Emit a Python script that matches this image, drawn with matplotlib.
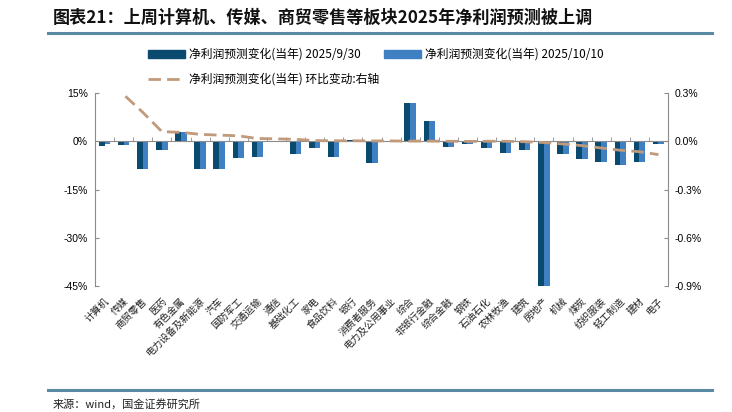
import numpy as np
import matplotlib
matplotlib.use("Agg")
import matplotlib.pyplot as plt
from matplotlib.lines import Line2D
from matplotlib.patches import Patch

plt.rcParams['font.family'] = ['Noto Sans CJK SC', 'DejaVu Sans']

# 行业
categories = ["计算机", "传媒", "商贸零售", "医药", "有色金属", "电力设备及新能源", "汽车",
              "国防军工", "交通运输", "通信", "基础化工", "家电", "食品饮料", "银行",
              "消费者服务", "电力及公用事业", "综合", "非银行金融", "综合金融", "钢铁",
              "石油石化", "农林牧渔", "建筑", "房地产", "机械", "煤炭", "纺织服装",
              "轻工制造", "建材", "电子"]

# 净利润预测变化(当年), %
chg_0930 = [-1.5, -1.3, -8.7, -2.6, 2.9, -8.5, -8.5, -5.2, -5.0, -0.3,
            -4.1, -2.0, -4.9, 0.5, -6.9, -0.3, 12.0, 6.2, -1.8, -0.8,
            -2.0, -3.5, -2.7, -46.0, -4.1, -5.4, -6.5, -7.4, -6.3, -0.9]
chg_1010 = [-0.7, -1.1, -8.7, -2.6, 3.0, -8.5, -8.5, -5.2, -5.0, -0.2,
            -4.1, -2.0, -4.9, 0.5, -6.9, -0.1, 12.0, 6.2, -1.8, -1.0,
            -2.0, -3.5, -2.7, -46.0, -4.1, -5.4, -6.5, -7.4, -6.3, -0.9]
# 环比变动 (右轴), %
diff = [0.6, 0.29, 0.18, 0.06, 0.055, 0.043, 0.038, 0.034, 0.017, 0.015,
        0.012, 0.004, 0.003, 0.003, 0.002, 0.002, 0.001, 0.001, 0.0, -0.001,
        0.0, 0.0, -0.003, -0.008, -0.017, -0.027, -0.042, -0.056, -0.065, -0.083]

dark = "#0b4a6f"
light = "#3f80c2"
tan = "#c09a7b"
grey = "#8c8c8c"
rule = "#5a8aa3"

fig = plt.figure(figsize=(7.32, 4.12), dpi=100)
ax = fig.add_axes([95 / 732, 1 - 286 / 412, 573 / 732, 193 / 412])
x = np.arange(len(categories))
w = 0.3
ax.bar(x - w / 2, chg_0930, w, color=dark, zorder=2)
ax.bar(x + w / 2, chg_1010, w, color=light, zorder=2)
ax.set_xlim(-0.5, len(categories) - 0.5)
ax.set_ylim(-45, 15)
ax.set_yticks([15, 0, -15, -30, -45])
ax.set_yticklabels(["15%", "0%", "-15%", "-30%", "-45%"], family="Liberation Sans", fontsize=7.5)
ax.tick_params(axis='y', direction='in', length=3, color=grey, pad=5)

for s in ["top", "right"]:
    ax.spines[s].set_visible(False)
ax.spines["left"].set_color(grey)
ax.spines["bottom"].set_position(("data", 0))
ax.spines["bottom"].set_color(grey)
ax.set_xticks(x)
ax.set_xticklabels([])
ax.tick_params(axis='x', which='major', length=0)
ax.set_xticks(np.arange(len(categories) + 1) - 0.5, minor=True)
ax.tick_params(axis='x', which='minor', direction='in', length=3, color=grey)

for i, name in enumerate(categories):
    ax.annotate(name, xy=(i, 0), xycoords=("data", "axes fraction"),
                xytext=(2, -9.5), textcoords="offset points",
                rotation=45, rotation_mode="anchor", ha="right", va="center",
                fontsize=7, color="#222222")

ax2 = ax.twinx()
ln, = ax2.plot(x, diff, color=tan, lw=2.0, zorder=3)
ln.set_dashes((4.5, 2.2))
ax2.set_ylim(-0.9, 0.3)
ax2.set_yticks([0.3, 0.0, -0.3, -0.6, -0.9])
ax2.set_yticklabels(["0.3%", "0.0%", "-0.3%", "-0.6%", "-0.9%"], family="Liberation Sans", fontsize=7.5)
ax2.tick_params(axis='y', direction='in', length=3, color=grey, pad=5)
for s in ["top", "left", "bottom"]:
    ax2.spines[s].set_visible(False)
ax2.spines["right"].set_color(grey)

handles = [Patch(color=dark), Line2D([], [], color=tan, lw=2.0, dashes=(4.5, 2.2)), Patch(color=light)]
labels = ["净利润预测变化(当年) 2025/9/30", "净利润预测变化(当年) 环比变动:右轴",
          "净利润预测变化(当年) 2025/10/10"]
fig.legend(handles, labels, loc="upper left", bbox_to_anchor=(148 / 732, 1 - 48 / 412),
           ncol=2, frameon=False, fontsize=8.5, borderpad=0, borderaxespad=0,
           handlelength=3.1, handleheight=0.6, handletextpad=0.35, columnspacing=0.45,
           labelspacing=1.0)

fig.text(53 / 732, 1 - 18 / 412, "图表21：上周计算机、传媒、商贸零售等板块2025年净利润预测被上调",
         fontsize=12.3, weight="bold", va="center", ha="left", color="#111111")
fig.add_artist(Line2D([48 / 732, 712 / 732], [1 - 33 / 412] * 2, color=rule, lw=2.2))
fig.add_artist(Line2D([48 / 732, 712 / 732], [1 - 390 / 412] * 2, color=rule, lw=2.2))
fig.text(53 / 732, 1 - 404 / 412, "来源：wind，国金证券研究所", fontsize=8, va="center", ha="left",
         color="#222222")

fig.savefig("out.png", dpi=100)
